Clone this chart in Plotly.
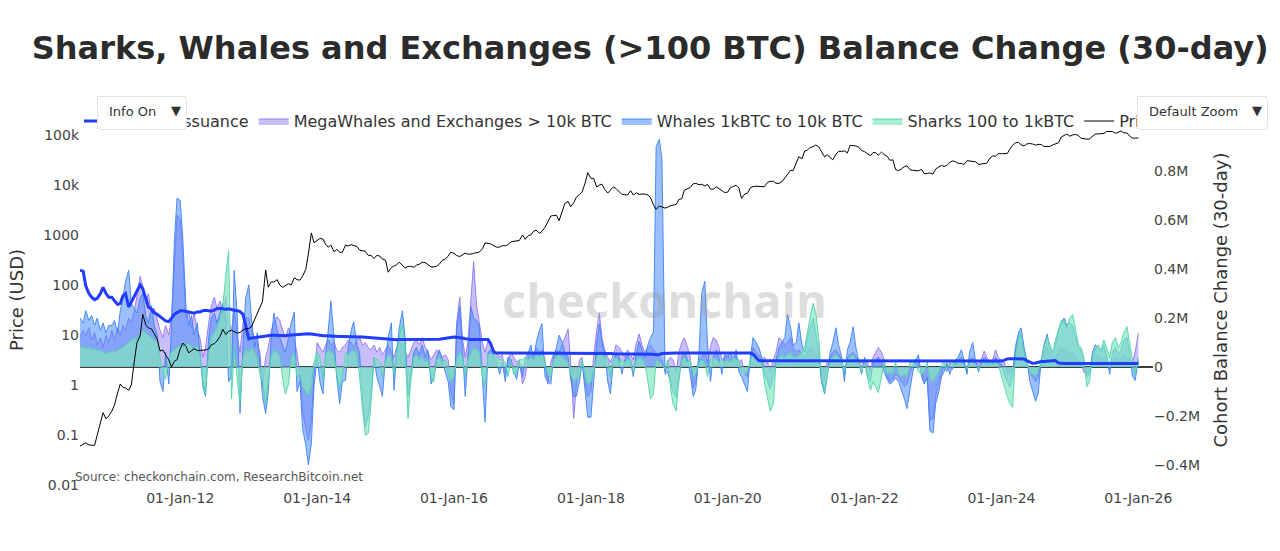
import pandas as pd
import plotly.graph_objects as go

# Semi-monthly sampling dates (1st and 15th of each month)
dates = pd.date_range("2010-07-15", "2026-01-01", freq="SMS")

# BTC price (USD)
price = [
    0.06, 0.065, 0.07, 0.063, 0.062, 0.062, 0.10, 0.19, 0.28, 0.21, 0.24,  # 2010
    0.30, 0.40, 0.70, 1.05, 0.90, 0.87, 0.78, 1.0, 3.0, 7.0, 9.6, 26, 16, 13.9, 13.2, 10.8, 8.2, 4.8, 5.0, 4.0, 3.2, 2.3, 3.0, 3.2,  # 2011
    5.3, 6.9, 5.9, 4.4, 4.9, 5.3, 4.9, 4.9, 5.0, 5.0, 5.3, 6.4, 6.7, 7.6, 9.4, 13.0, 10.2, 11.9, 12.4, 11.8, 10.9, 11.2, 12.6, 13.3,  # 2012
    13.5, 14.5, 20.4, 27, 34, 47, 200, 90, 116, 115, 128, 100, 90, 98, 106, 100, 140, 128, 125, 150, 205, 420, 1100, 700,  # 2013
    770, 850, 830, 650, 570, 630, 460, 520, 450, 450, 630, 600, 640, 620, 590, 500, 480, 470, 390, 390, 340, 390, 380, 330,  # 2014
    315, 180, 225, 240, 255, 285, 245, 220, 235, 237, 225, 250, 260, 285, 280, 260, 230, 230, 237, 262, 315, 330, 375, 455,  # 2015
    430, 390, 370, 400, 435, 415, 415, 430, 450, 455, 530, 700, 675, 665, 610, 570, 575, 610, 610, 640, 730, 740, 750, 780,  # 2016
    1000, 820, 970, 1010, 1190, 1250, 1080, 1180, 1420, 1750, 2400, 2450, 2480, 1930, 2870, 4300, 4700, 3700, 4400, 5700, 6450, 7300, 10900, 17700,  # 2017
    13500, 13600, 9100, 10000, 10400, 8200, 6900, 8000, 9200, 8500, 7500, 6500, 6400, 6300, 7700, 6300, 7000, 6500, 6600, 6600, 6300, 5600, 4000, 3250,  # 2018
    3800, 3600, 3450, 3600, 3850, 3950, 4100, 5100, 5350, 7900, 8550, 8900, 10600, 10800, 10100, 10300, 9600, 10300, 8300, 8200, 9200, 8500, 7550, 7100,  # 2019
    7200, 8800, 9400, 9900, 8600, 5400, 6600, 6800, 8800, 9300, 9450, 9400, 9150, 9200, 11350, 11800, 11900, 10800, 10800, 11500, 13800, 16000, 19700, 19400,  # 2020
    29000, 36800, 33500, 48000, 49600, 56000, 58800, 63000, 57800, 46800, 36700, 40100, 35000, 31800, 41500, 47000, 47100, 48100, 43800, 61700, 61300, 60300, 57000, 48900,  # 2021
    46300, 43000, 38500, 44500, 44400, 39300, 45500, 40500, 37700, 31300, 31800, 20400, 19300, 20800, 23300, 24300, 20000, 19700, 19400, 19200, 20500, 16900, 17000, 17400,  # 2022
    16600, 20900, 23100, 24600, 23600, 24400, 28500, 30300, 29200, 27000, 27200, 25600, 30600, 30300, 29200, 29200, 25900, 26600, 27000, 27200, 34700, 37900, 37700, 42300,  # 2023
    42300, 42500, 42600, 51900, 62400, 69500, 71300, 63400, 60600, 66200, 67500, 66000, 62700, 64800, 64600, 58700, 58900, 59100, 63300, 67000, 70200, 91000, 96400, 104500,  # 2024
    94400, 100500, 102400, 97500, 86100, 84000, 82500, 83700, 94200, 103700, 105700, 105600, 107100, 117800, 115800, 117400, 108200, 115400, 120000, 110700, 110000, 95500, 86500, 86400,  # 2025
    87500,  # 2026
]

# 30-day supply issuance (thousand BTC)
issuance_k = [
    395, 390, 330, 300, 285, 275, 280, 300, 325, 300, 285,  # 2010
    285, 270, 255, 260, 290, 300, 245, 265, 290, 310, 335, 320, 280, 245, 235, 222, 214, 205, 195, 188, 185, 200, 215, 222,  # 2011
    230, 230, 228, 225, 222, 220, 225, 225, 230, 232, 230, 228, 232, 238, 240, 238, 236, 238, 234, 232, 230, 226, 215, 165,  # 2012
    115, 118, 120, 122, 124, 126, 128, 129, 130, 130, 129, 128, 127, 128, 130, 131, 132, 131, 132, 134, 136, 136, 135, 133,  # 2013
    130, 129, 128, 128, 127, 127, 126, 126, 125, 125, 125, 124, 124, 124, 123, 123, 122, 121, 120, 119, 118, 117, 116, 115,  # 2014
    113, 112, 112, 111, 111, 112, 112, 113, 113, 112, 112, 111, 111, 112, 112, 113, 113, 112, 112, 113, 115, 117, 120, 122,  # 2015
    122, 121, 120, 118, 115, 113, 112, 112, 112, 113, 113, 112, 112, 95, 60, 57, 57, 57, 57, 57, 57, 57, 57, 58,  # 2016
    58, 58, 58, 58, 58, 58, 58, 58, 58, 58, 58, 58, 58, 58, 58, 58, 58, 58, 58, 58, 58, 58, 58, 58,  # 2017
    57, 57, 56, 56, 55, 55, 55, 55, 54, 54, 54, 54, 54, 54, 54, 54, 54, 54, 54, 54, 54, 53, 52, 50,  # 2018
    51, 55, 56, 57, 57, 57, 57, 57, 57, 57, 57, 57, 57, 57, 57, 57, 57, 57, 57, 57, 57, 57, 57, 57,  # 2019
    57, 57, 57, 57, 57, 57, 57, 57, 57, 53, 36, 26, 25, 25, 25, 25, 25, 25, 25, 25, 25, 25, 25, 25,  # 2020
    25, 25, 25, 25, 25, 25, 25, 25, 25, 25, 25, 25, 25, 25, 25, 25, 24, 23, 23, 23, 23, 23, 23, 23,  # 2021
    24, 24, 24, 24, 24, 24, 24, 24, 24, 24, 24, 24, 24, 24, 24, 24, 24, 24, 24, 24, 24, 24, 24, 24,  # 2022
    24, 24, 24, 24, 24, 24, 24, 24, 24, 24, 24, 24, 24, 24, 24, 24, 24, 24, 24, 24, 24, 24, 24, 24,  # 2023
    24, 27, 33, 34, 34, 34, 34, 34, 33, 26, 20, 15, 16, 20, 22, 22, 23, 25, 27, 26, 16, 14, 14, 14,  # 2024
    14, 14, 14, 14, 14, 14, 14, 14, 14, 14, 14, 14, 14, 14, 14, 14, 14, 14, 14, 14, 14, 14, 14, 14,  # 2025
    14,  # 2026
]

# MegaWhales and Exchanges > 10k BTC, 30-day balance change (thousand BTC)
mega_k = [
    120, 150, 130, 160, 110, 140, 90, 120, 80, 130, 100,  # 2010
    150, 110, 160, 130, 170, 150, 200, 180, 230, 290, 370, 330, 260, 300, 220, 240, 190, 150, 120, 170, 130, 200, 420, 620,  # 2011
    600, 450, 200, 230, 160, 220, 150, 120, 40, 80, 180, 250, 285, 240, 270, 220, 290, 180, 150, 240, 120, 60, 180, 200,  # 2012
    200, 150, 120, 100, 60, -80, 40, 80, 150, 180, 205, 190, 150, 120, 160, 130, 110, 60, -40, -180, -250, -300, -220, -40,  # 2013
    100, 80, 60, 90, 110, 90, 100, 70, 60, 80, 90, 110, 100, 80, 110, 120, 90, 100, 80, 70, 90, 60, 80, 50,  # 2014
    70, 90, 60, 40, 80, 100, 90, 60, 40, 70, 100, 110, 90, 120, 80, 60, 30, 50, 70, 60, 40, 50, 30, -100,  # 2015
    -150, 180, 285, 120, 40, 100, 300, 430, 250, 180, 100, 60, 110, 90, 70, 60, 40, 50, -30, 30, 60, 40, 20, 30,  # 2016
    -70, -40, 40, 60, 50, 80, 60, 70, 30, -70, 20, 50, 70, 60, 90, 120, 155, 20, -210, -80, 30, 40, -60, -120,  # 2017
    -100, 40, 150, 220, 120, 70, 40, 20, 50, 90, 80, 60, 40, 70, 50, 30, 100, 135, 90, 60, 80, 90, 70, 60,  # 2018
    40, 30, -20, 20, 40, 30, -20, 60, 100, 120, 80, 40, -85, -60, 30, 40, 60, 20, 80, 120, 110, 80, 30, 40,  # 2019
    50, 30, 50, 40, 20, 30, -30, -40, 30, 80, 60, 50, 30, 40, 20, -20, 30, 60, 120, 110, 90, 100, 120, 80,  # 2020
    60, 70, 50, 40, 60, 80, 70, 50, 40, -30, -50, 20, 40, 60, 70, 50, 30, -30, 40, 50, 60, 40, 30, 20,  # 2021
    30, 20, -20, 40, 60, 80, 60, 30, -40, -60, -50, -30, -40, -60, -80, -70, -20, 10, 20, 30, -30, -60, -50, -220,  # 2022
    -210, -120, -60, -30, 10, -20, 20, -10, 20, 30, 40, 20, -20, 30, 40, 20, 10, 30, 65, 40, 20, 30, 70, 40,  # 2023
    30, 20, -20, -30, -10, 60, 120, 135, 60, 20, -20, -40, -60, -40, 20, 60, 80, 50, 30, 40, 60, 80, 70, 60,  # 2024
    50, 60, 40, 30, 20, -20, -30, -20, 30, 40, 50, 30, 40, 30, -10, 30, 40, 30, 40, 50, 40, 30, 20, 60,  # 2025
    140,  # 2026
]

# Whales 1k to 10k BTC (thousand BTC)
whales_k = [
    200, 180, 230, 190, 210, 170, 200, 150, 180, 140, 170,  # 2010
    170, 190, 140, 230, 280, 350, 395, 260, 240, 220, 280, 300, 210, 180, 250, 170, 130, -60, -100, 60, -70, 150, 520, 690,  # 2011
    680, 520, 240, 170, 210, 130, 180, 60, -80, -120, 120, 200, 220, 180, 230, 260, 200, -60, -40, 395, 200, -190, 90, 280,  # 2012
    335, 200, 80, 140, 20, -120, -190, -100, 120, 220, 150, 120, 90, 60, 120, 180, 225, -100, -60, -250, -320, -400, -310, -80,  # 2013
    40, -60, -110, 50, 150, 270, 120, -40, -150, -60, -55, 80, 150, 185, 90, 60, -150, -245, -200, -120, 40, -40, -80, -120,  # 2014
    40, 120, 180, -95, 60, 160, 230, 120, -120, -30, 60, 80, 50, 90, 40, 70, -70, -40, 40, 70, 30, -20, -60, -160,  # 2015
    -175, 150, 245, 80, -120, 40, 245, 200, 190, 170, -60, -225, 60, 70, 40, 20, -30, 20, -60, 40, 30, -20, -50, 20,  # 2016
    -40, 30, 60, 90, 20, 100, 150, 177, -40, -60, -70, 40, 80, 130, 100, 60, 40, -50, -120, -120, -60, 20, -100, -205,  # 2017
    -205, -80, 100, 177, 100, 60, -60, -110, 20, 60, 40, -30, 30, 50, 20, -40, 60, 105, 70, 40, 90, 120, 145, 900,  # 2018
    930, 850, -30, -20, -60, -100, -125, -40, 40, 60, 30, -30, -120, -90, 60, 300, 350, 100, -60, 40, 70, 40, -30, 50,  # 2019
    40, 60, 20, 70, -20, -40, -70, -100, 40, 120, 100, 80, 40, -30, -60, -90, -40, 30, 80, 100, 120, 215, 165, 90,  # 2020
    100, 180, 90, 60, 120, 160, 200, 140, 60, -60, -110, -40, 60, 100, 160, 90, 40, -60, 70, 100, 165, 80, 20, -30,  # 2021
    40, -30, -60, 20, 30, 40, 20, -20, -50, -70, -60, -45, -60, -90, -130, -170, -80, -20, 30, 50, -40, -70, -40, -260,  # 2022
    -270, -150, -100, -40, -20, 20, -30, 10, 30, 40, 70, 30, -30, 60, 100, 30, -20, 20, 40, 30, 10, 20, 40, 20,  # 2023
    10, -30, -60, -80, -40, 80, 140, 160, 80, 30, -60, -100, -140, -110, 30, 90, 135, 80, 40, 90, 150, 180, 200, 170,  # 2024
    180, 170, 120, 80, 70, 30, -40, -30, 60, 90, 80, 60, 90, 50, -30, 60, 80, 50, 70, 110, 120, 60, -40, -55,  # 2025
    30,  # 2026
]

# Sharks 100 to 1k BTC (thousand BTC)
sharks_k = [
    80, 85, 75, 80, 70, 75, 65, 70, 60, 55, 60,  # 2010
    65, 60, 70, 75, 80, 90, 100, 110, 120, 110, 130, 150, 140, 130, 120, 110, 100, 40, -30, -50, 40, 60, 70, 80,  # 2011
    90, 80, 90, 100, 80, 70, 90, 50, -60, -110, 60, 120, 140, 160, 200, 250, 380, 475, -130, 80, -60, -150, 40, 70,  # 2012
    60, 80, 60, 40, -30, -60, -150, -60, 50, 70, 60, 50, -50, -110, -70, 40, 60, -40, -30, -80, -100, -120, -80, 20,  # 2013
    60, 40, -50, 50, 70, 60, 50, -30, -90, -40, 60, 50, 60, 70, 50, -40, -180, -280, -270, -150, 40, 30, 20, -40,  # 2014
    30, 50, 40, -30, 60, 120, 175, 80, -210, -60, 40, 50, 30, 40, 20, 30, -40, -60, 30, 40, 20, 30, -30, -60,  # 2015
    -40, 30, 60, 40, -30, 30, 60, 80, 70, 60, -40, -80, 50, 55, 50, 40, 30, 30, 20, -40, 20, -30, -20, 30,  # 2016
    30, 40, 30, 40, 30, 50, 40, 60, 20, -30, -40, 30, 40, 50, 40, 30, 20, -30, -60, -50, -40, 30, -40, -70,  # 2017
    -60, -20, 40, 60, 50, 40, 30, -40, 30, 40, 20, 30, 20, 30, 30, -20, 30, 40, 30, 20, -60, -130, -110, 30,  # 2018
    20, 10, -10, 30, -80, -150, -180, -60, 30, 40, 20, 30, -40, -30, 20, 30, 20, -40, 30, 40, 30, 20, 30, 20,  # 2019
    30, 20, 40, 30, 30, -20, -30, -20, 30, 50, 40, 30, 20, -60, -120, -180, -150, 20, 40, 50, 40, 50, 60, 40,  # 2020
    40, 50, 60, 80, 150, 200, 260, 220, 120, -40, -100, -30, 30, 40, 50, 40, 30, -20, 30, 40, 50, 30, 20, -20,  # 2021
    20, -40, -95, -60, -80, -105, -40, 20, -30, -20, -30, 20, -30, -40, -30, -40, 20, 20, 10, -20, -30, -20, 20, -50,  # 2022
    -60, -40, -20, 10, 20, -10, 10, 20, 10, 20, 20, 10, -10, 20, 20, 10, -10, 10, 20, 10, 20, 10, 20, 10,  # 2023
    -40, -80, -120, -150, -165, 40, 120, 140, 60, 20, -20, -30, -40, -20, 40, 80, 120, 90, 60, 110, 160, 190, 185, 160,  # 2024
    200, 215, 150, 90, 80, 40, -80, -60, 40, 70, 90, 70, 110, 80, 40, 100, 120, 80, 100, 140, 165, 100, 20, -30,  # 2025
    40,  # 2026
]

right_tickvals = [-400000, -200000, 0, 200000, 400000, 600000, 800000]
right_ticktext = ["−0.4M", "−0.2M", "0", "0.2M", "0.4M", "0.6M", "0.8M"]
left_tickvals = [0.01, 0.1, 1, 10, 100, 1000, 10000, 100000]
left_ticktext = ["0.01", "0.1", "1", "10", "100", "1000", "10k", "100k"]


def btc(values_k):
    return [v * 1000 for v in values_k]


fig = go.Figure()
fig.add_trace(go.Scatter(
    x=dates, y=btc(mega_k), name="MegaWhales and Exchanges > 10k BTC", mode="lines",
    fill="tozeroy", fillcolor="rgba(150,125,245,0.5)",
    line=dict(color="rgba(145,115,245,0.9)", width=1), yaxis="y", legendrank=2))
fig.add_trace(go.Scatter(
    x=dates, y=btc(whales_k), name="Whales 1kBTC to 10k BTC", mode="lines",
    fill="tozeroy", fillcolor="rgba(75,140,248,0.55)",
    line=dict(color="rgba(60,130,250,0.9)", width=1), yaxis="y", legendrank=3))
fig.add_trace(go.Scatter(
    x=dates, y=btc(sharks_k), name="Sharks 100 to 1kBTC", mode="lines",
    fill="tozeroy", fillcolor="rgba(130,232,188,0.68)",
    line=dict(color="rgba(80,212,165,0.9)", width=1), yaxis="y", legendrank=4))
fig.add_trace(go.Scatter(
    x=dates, y=btc(issuance_k), name="Supply Issuance", mode="lines",
    line=dict(color="#1f3cff", width=3), yaxis="y", legendrank=1))
fig.add_trace(go.Scatter(
    x=dates, y=price, name="Price", mode="lines",
    line=dict(color="black", width=1), yaxis="y2", legendrank=5))

fig.update_layout(
    width=1280, height=551,
    margin=dict(l=80, r=127, t=112, b=63),
    paper_bgcolor="white", plot_bgcolor="white",
    font=dict(family="DejaVu Sans", size=14, color="#444"),
    title=dict(text="<b>Sharks, Whales and Exchanges (>100 BTC) Balance Change (30-day)</b>",
               x=0.508, xref="container", xanchor="center",
               y=1 - 48 / 551, yref="container", yanchor="middle",
               font=dict(family="DejaVu Sans", size=32, color="#2b2b2b")),
    showlegend=True,
    legend=dict(orientation="h", x=-0.001, xanchor="left", y=1.021, yanchor="top",
                font=dict(size=16, color="#333"), bgcolor="rgba(0,0,0,0)"),
    xaxis=dict(type="date", range=["2010-07-15", "2026-03-20"], tickformat="%d-%b-%y",
               dtick="M24", tick0="2012-01-01", showgrid=False, zeroline=False,
               showline=False, ticks="", tickfont=dict(size=14, color="#444")),
    yaxis=dict(side="right", range=[-494000, 1041000], tickvals=right_tickvals,
               ticktext=right_ticktext, showgrid=False, zeroline=True,
               zerolinecolor="#404040", zerolinewidth=2, showline=False,
               tickfont=dict(size=14, color="#444"),
               title=dict(text="Cohort Balance Change (30-day)", font=dict(size=18, color="#333"))),
    yaxis2=dict(type="log", side="left", overlaying="y", range=[-2.06, 5.46],
                tickvals=left_tickvals, ticktext=left_ticktext, showgrid=False,
                zeroline=False, showline=False, tickfont=dict(size=14, color="#444"),
                title=dict(text="Price (USD)", font=dict(size=18, color="#333"))),
    updatemenus=[
        dict(type="dropdown", direction="down", x=0.0145, xanchor="left", y=1.045, yanchor="top",
             active=0, showactive=True, bgcolor="white", bordercolor="#e4e4e4", borderwidth=1,
             font=dict(size=13, color="#333"),
             buttons=[dict(label="Info On", method="skip"), dict(label="Info Off", method="skip")]),
        dict(type="dropdown", direction="down", x=0.984, xanchor="left", y=1.045, yanchor="top",
             active=0, showactive=True, bgcolor="white", bordercolor="#e4e4e4", borderwidth=1,
             font=dict(size=13, color="#333"),
             buttons=[dict(label="Default Zoom", method="skip"), dict(label="Full History", method="skip")]),
    ],
    annotations=[
        dict(text="<b>checkonchain</b>", x=0.545, y=0.5, xref="paper", yref="paper",
             showarrow=False, font=dict(family="Open Sans", size=47, color="rgba(150,150,150,0.32)")),
        dict(text="Source: checkonchain.com, ResearchBitcoin.net", x=-0.0065, y=0.029,
             xref="paper", yref="paper", xanchor="left", yanchor="middle", showarrow=False,
             font=dict(size=12, color="#555")),
    ],
)

fig.write_html("out.html")
